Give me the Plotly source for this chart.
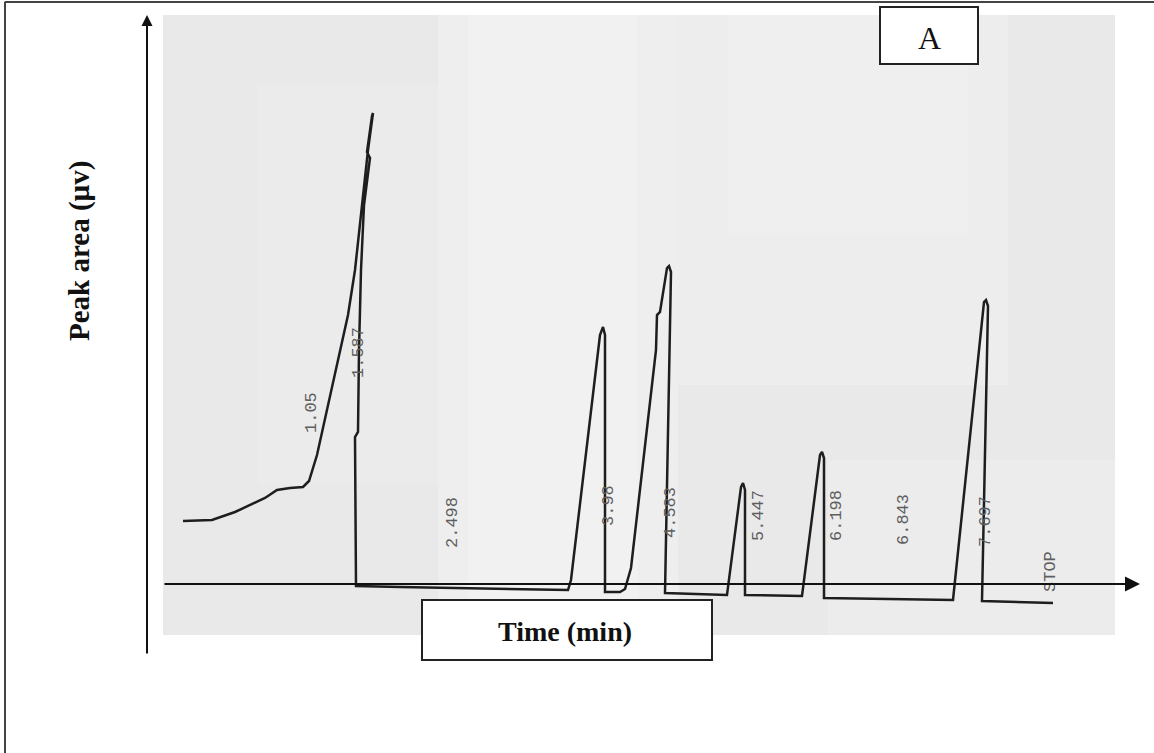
import plotly.graph_objects as go

# Chromatogram trace: retention time (min) and detector signal (µV, baseline = 0)
time_min = [
    -0.25, 0.04, 0.27, 0.45, 0.57, 0.69, 0.82, 0.95, 1.01, 1.09, 1.15, 1.22, 1.30,
    1.40, 1.47, 1.55, 1.60, 1.65, 1.64, 1.59, 1.62, 1.56, 1.53, 1.51, 1.50, 1.47,
    1.48, 1.92, 3.60,
    3.63, 3.92, 3.95, 3.97, 3.97, 4.12, 4.17, 4.23, 4.48, 4.49, 4.52, 4.59, 4.61,
    4.63, 4.57, 5.19,
    5.33, 5.35, 5.37, 5.37, 5.94,
    6.12, 6.14, 6.16, 6.16, 7.45,
    7.76, 7.78, 7.80, 7.74, 8.45,
]
signal_uv = [
    12.8, 13.0, 14.6, 16.2, 17.4, 19.0, 19.4, 19.6, 20.8, 26.0, 31.4, 38.0, 45.0,
    54.0, 63.0, 77.6, 87.0, 94.4, 93.8, 86.6, 85.4, 76.0, 63.0, 47.0, 30.6, 29.6,
    -0.2, -0.4, -1.0,
    1.0, 50.0, 51.6, 50.0, -1.4, -1.4, -0.8, 3.4, 47.0, 54.0, 54.6, 63.4, 63.8,
    62.6, -1.6, -2.0,
    19.6, 20.4, 19.0, -2.0, -2.2,
    26.0, 26.6, 25.4, -2.6, -3.0,
    56.6, 57.0, 55.8, -3.2, -3.6,
]

# Integrator print-out: retention times printed beside the trace
rt_labels = ["1.05", "1.587", "2.498", "3.98", "4.583", "5.447", "6.198", "6.843", "7.697", "STOP"]
rt_label_t = [1.03, 1.50, 2.44, 4.00, 4.62, 5.50, 6.28, 6.95, 7.77, 8.42]
rt_label_v = [34.4, 46.4, 12.4, 15.8, 14.4, 13.8, 13.8, 13.0, 12.6, 2.6]

X_RANGE = [-2.08, 9.46]
Y_RANGE = [-33.6, 117.0]
W, H = 1154, 753

fig = go.Figure()

# scanned paper strip with soft uneven shading
fig.add_shape(type="rect", xref="x", yref="y", x0=-0.45, x1=9.07, y0=-10.0, y1=114.0,
              fillcolor="#e9e9e9", line_width=0, layer="below")
for x0, x1, y0, y1, op in [(2.3, 4.7, -10.0, 114.0, 0.25), (2.6, 4.3, -10.0, 114.0, 0.2),
                           (4.7, 8.0, 40.0, 114.0, 0.18), (5.2, 7.6, 70.0, 114.0, 0.15),
                           (6.2, 9.07, -10.0, 25.0, 0.15), (0.5, 2.3, 20.0, 100.0, 0.1)]:
    fig.add_shape(type="rect", xref="x", yref="y", x0=x0, x1=x1, y0=y0, y1=y1,
                  fillcolor="white", opacity=op, line_width=0, layer="below")

fig.add_trace(go.Scatter(
    x=time_min, y=signal_uv, mode="lines",
    line=dict(color="#1e1e1e", width=2.5),
    hoverinfo="skip", showlegend=False,
))

for txt, t, v in zip(rt_labels, rt_label_t, rt_label_v):
    fig.add_annotation(x=t, y=v, xref="x", yref="y", text=txt, showarrow=False,
                       textangle=-90, xanchor="center", yanchor="middle",
                       font=dict(family="Liberation Mono", size=17, color="#5e5e5e"))

# axis arrows
fig.add_annotation(x=9.32, y=0.2, ax=-0.45, ay=0.2, xref="x", yref="y", axref="x", ayref="y",
                   text="", showarrow=True, arrowhead=2, arrowsize=1.5, arrowwidth=2,
                   arrowcolor="#111")
fig.add_annotation(x=-0.61, y=114.0, ax=-0.61, ay=-14.0, xref="x", yref="y", axref="x", ayref="y",
                   text="", showarrow=True, arrowhead=2, arrowsize=1.1, arrowwidth=2,
                   arrowcolor="#111")

# frame lines (top and left)
fig.add_shape(type="line", xref="paper", yref="paper", x0=0.004, x1=1.0, y0=1 - 2 / H, y1=1 - 2 / H,
              line=dict(color="#444", width=2))
fig.add_shape(type="line", xref="paper", yref="paper", x0=5 / W, x1=5 / W, y0=0.0, y1=1 - 2 / H,
              line=dict(color="#444", width=2))

# panel tag
fig.add_shape(type="rect", xref="paper", yref="paper", x0=880 / W, x1=978 / W,
              y0=1 - 64 / H, y1=1 - 7 / H, fillcolor="white", line=dict(color="#222", width=2))
fig.add_annotation(x=929 / W, y=1 - 38 / H, xref="paper", yref="paper", text="A",
                   showarrow=False, xanchor="center", yanchor="middle",
                   font=dict(family="Liberation Serif", size=32, color="#111"))

# axis titles
fig.add_shape(type="rect", xref="paper", yref="paper", x0=422 / W, x1=712 / W,
              y0=1 - 660 / H, y1=1 - 600 / H, fillcolor="white", line=dict(color="#222", width=2))
fig.add_annotation(x=565 / W, y=1 - 631 / H, xref="paper", yref="paper",
                   text="<b>Time (min)</b>", showarrow=False, xanchor="center", yanchor="middle",
                   font=dict(family="Liberation Serif", size=28, color="#111"))
fig.add_annotation(x=80 / W, y=1 - 251 / H, xref="paper", yref="paper",
                   text="<b>Peak area (µv)</b>", showarrow=False, textangle=-90,
                   xanchor="center", yanchor="middle",
                   font=dict(family="Liberation Serif", size=29, color="#111"))

fig.update_layout(
    width=W, height=H, autosize=False,
    margin=dict(l=0, r=0, t=0, b=0),
    paper_bgcolor="white", plot_bgcolor="white",
    xaxis=dict(range=X_RANGE, visible=False, fixedrange=True),
    yaxis=dict(range=Y_RANGE, visible=False, fixedrange=True),
)

fig.write_html("out.html")
